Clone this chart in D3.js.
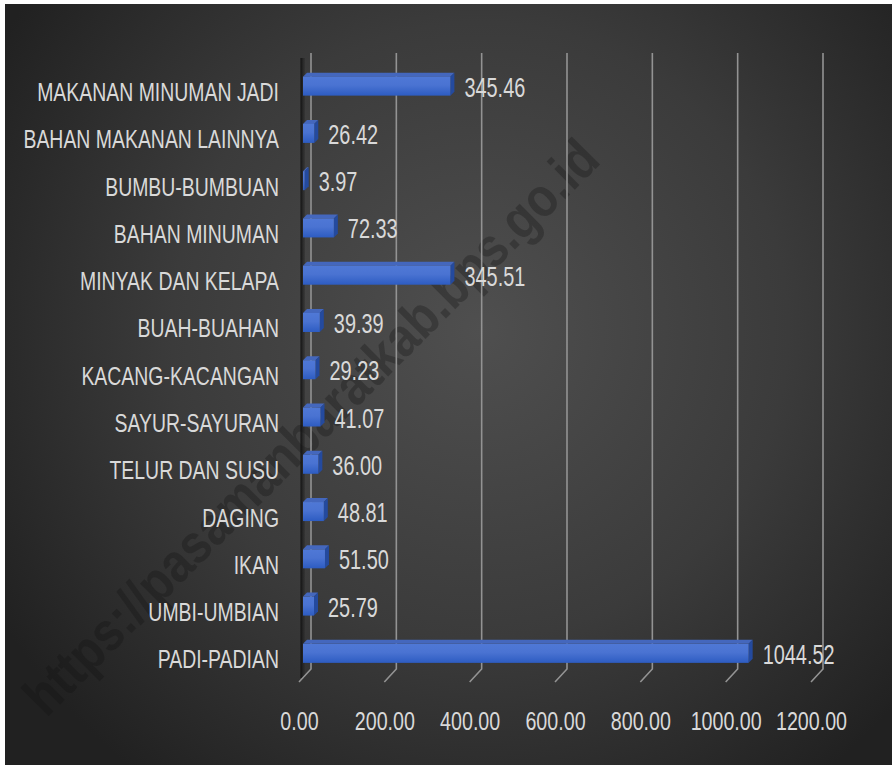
<!DOCTYPE html>
<html>
<head>
<meta charset="utf-8">
<script src="https://cdn.jsdelivr.net/npm/d3@7"></script>
<style>
  body { margin: 0; background: #fff; }
  text { font-family: "Liberation Sans", Arial, sans-serif; }
</style>
</head>
<body>
<svg id="chart" width="892" height="767"></svg>
<script>
// categories from bottom to top, as in the source sheet
var categories = ["PADI-PADIAN", "UMBI-UMBIAN", "IKAN", "DAGING", "TELUR DAN SUSU",
    "SAYUR-SAYURAN", "KACANG-KACANGAN", "BUAH-BUAHAN", "MINYAK DAN KELAPA",
    "BAHAN MINUMAN", "BUMBU-BUMBUAN", "BAHAN MAKANAN LAINNYA", "MAKANAN MINUMAN JADI"]
var values = [1044.52, 25.79, 51.50, 48.81, 36.00, 41.07, 29.23, 39.39, 345.51, 72.33, 3.97, 26.42, 345.46]
var tickValues = [0, 200, 400, 600, 800, 1000, 1200]

var svg = d3.select("#chart")
var defs = svg.append("defs")

var bg = defs.append("radialGradient").attr("id", "bg")
    .attr("gradientUnits", "userSpaceOnUse")
    .attr("cx", 480).attr("cy", 330).attr("r", 560)
bg.append("stop").attr("offset", "0%").attr("stop-color", "#4f4f4f")
bg.append("stop").attr("offset", "55%").attr("stop-color", "#3b3b3b")
bg.append("stop").attr("offset", "100%").attr("stop-color", "#212121")

var front = defs.append("linearGradient").attr("id", "barFront")
    .attr("x1", 0).attr("y1", 0).attr("x2", 0).attr("y2", 1)
front.append("stop").attr("offset", "0%").attr("stop-color", "#4f78d6")
front.append("stop").attr("offset", "45%").attr("stop-color", "#4a73d2")
front.append("stop").attr("offset", "100%").attr("stop-color", "#2d5cc2")

var wall = defs.append("linearGradient").attr("id", "wall")
    .attr("x1", 0).attr("y1", 0).attr("x2", 1).attr("y2", 0)
wall.append("stop").attr("offset", "0%").attr("stop-color", "#0c0c0c").attr("stop-opacity", 0.9)
wall.append("stop").attr("offset", "100%").attr("stop-color", "#2a2a2a").attr("stop-opacity", 0.4)

svg.append("rect").attr("x", 5).attr("y", 4).attr("width", 887).attr("height", 761)
    .attr("fill", "url(#bg)")

// watermark
svg.append("text")
    .attr("transform", "translate(314,430) rotate(-45) scale(0.95,1.1)")
    .attr("text-anchor", "middle")
    .attr("dominant-baseline", "middle")
    .style("font-weight", "bold")
    .style("font-size", "50px")
    .attr("fill", "#111")
    .attr("fill-opacity", 0.3)
    .text("https://pasamanbaratkab.bps.go.id")

var xBack = d3.scaleLinear().domain([0, 1200]).range([311, 823])
var xFront = d3.scaleLinear().domain([0, 1200]).range([303, 815])
var xFloor = d3.scaleLinear().domain([0, 1200]).range([299, 811])
var y = d3.scaleBand().domain(categories.slice().reverse()).range([62.5, 677])

var gridTop = 53, gridBottom = 669

// left wall seen edge on
svg.append("rect").attr("x", 300.5).attr("y", 58).attr("width", 4.5).attr("height", 620)
    .attr("fill", "url(#wall)")

// gridlines: back wall plus floor edge
svg.append("g").selectAll("path")
    .data(tickValues)
    .enter().append("path")
    .attr("d", function(d) {
        return "M" + xBack(d) + "," + gridTop + "V" + gridBottom + "L" + xFloor(d) + "," + (gridBottom + 13)
    })
    .attr("fill", "none")
    .attr("stroke", "#939393")
    .attr("stroke-width", 1.6)

// 3D bars
var half = 9.5, depth = 4
var bars = svg.append("g").selectAll("g")
    .data(categories)
    .enter().append("g")

bars.append("path")
    .attr("d", function(d, i) {
        var c = y(d) + y.bandwidth() / 2, x0 = xFront(0), x1 = xFront(values[i])
        return "M" + x0 + "," + (c - half) + "L" + (x0 + depth) + "," + (c - half - depth) +
            "L" + (x1 + depth) + "," + (c - half - depth) + "L" + x1 + "," + (c - half) + "Z"
    })
    .attr("fill", "#4467bd")

bars.append("path")
    .attr("d", function(d, i) {
        var c = y(d) + y.bandwidth() / 2, x1 = xFront(values[i])
        return "M" + x1 + "," + (c - half) + "L" + (x1 + depth) + "," + (c - half - depth) +
            "L" + (x1 + depth) + "," + (c + half - depth) + "L" + x1 + "," + (c + half) + "Z"
    })
    .attr("fill", "#244a9e")

bars.append("rect")
    .attr("x", xFront(0))
    .attr("y", function(d) { return y(d) + y.bandwidth() / 2 - half })
    .attr("width", function(d, i) { return xFront(values[i]) - xFront(0) })
    .attr("height", half * 2)
    .attr("fill", "url(#barFront)")

// value labels
bars.append("text")
    .attr("transform", function(d, i) {
        var c = y(d) + y.bandwidth() / 2
        return "translate(" + (xFront(values[i]) + 14) + "," + (c + 10.5) + ") scale(0.83,1.12)"
    })
    .attr("fill", "#d9d9d9")
    .style("font-size", "24px")
    .text(function(d, i) { return values[i].toFixed(2) })

// category labels
svg.append("g").selectAll("text")
    .data(categories)
    .enter().append("text")
    .attr("transform", function(d) {
        return "translate(279," + (y(d) + y.bandwidth() / 2 + 15) + ") scale(0.81,1.07)"
    })
    .attr("text-anchor", "end")
    .attr("fill", "#d9d9d9")
    .style("font-size", "24px")
    .text(function(d) { return d })

// x axis labels
var axis = svg.append("g")
    .attr("transform", "translate(0,711)")
    .call(d3.axisBottom(xFloor).tickValues(tickValues).tickSize(0).tickFormat(d3.format(".2f")))
axis.select(".domain").remove()
axis.selectAll("text")
    .attr("y", 0)
    .attr("dy", "0.71em")
    .attr("transform", "scale(0.82,1.1)")
    .attr("fill", "#d9d9d9")
    .style("font-family", "'Liberation Sans', Arial, sans-serif")
    .style("font-size", "24px")
</script>
</body>
</html>
